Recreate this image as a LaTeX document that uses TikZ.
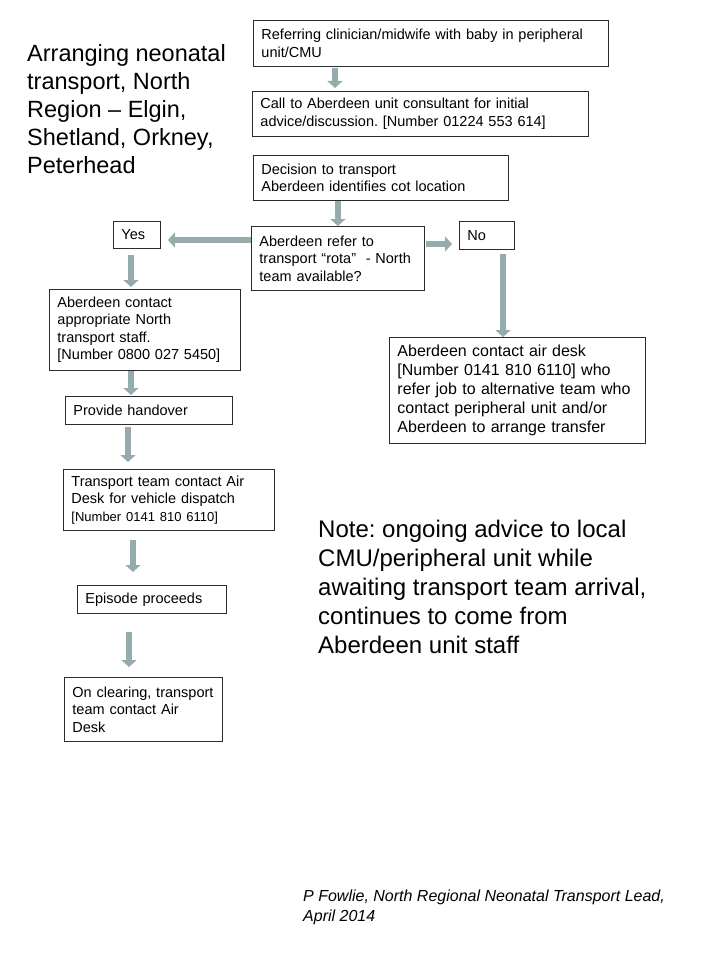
\documentclass[tikz,border=0pt]{standalone}
\usepackage{fontspec}
\setmainfont{Liberation Sans}
\usepackage{tikz}
\usetikzlibrary{arrows.meta,positioning,calc}
\frenchspacing
\definecolor{FlowTeal}{HTML}{94ACAE}
\definecolor{BoxEdge}{HTML}{2B2B2B}
\tikzset{
  flowarrow/.style={-{Triangle[length=7pt,width=15pt]}, line width=5.5pt, draw=FlowTeal},
  bigtext/.style={anchor=north west, align=left, inner sep=0pt}
}

\begin{document}
\begin{tikzpicture}[
  x=1pt, y=-1pt,
  cell/.style={draw=BoxEdge, line width=0.9pt, anchor=north west, align=left,
    inner xsep=8pt, inner ysep=2pt, font=\fontsize{14.5}{17.5}\selectfont}
]
\useasboundingbox (0,0) rectangle (720,960);

\node[bigtext, font=\fontsize{23.5}{28}\selectfont] at (27,44) (title) {Arranging neonatal\\transport, North\\Region – Elgin,\\Shetland, Orkney,\\Peterhead};

\node[cell, text width=339pt, minimum height=46pt] at (253,20) (ref) {Referring clinician/midwife with baby in peripheral\\unit/CMU};
\node[cell, text width=320pt, minimum height=45pt] at (252,91) (call) {Call to Aberdeen unit consultant for initial\\advice/discussion. [Number 01224 553 614]};
\node[cell, text width=239pt, minimum height=45pt] at (253,155) (decide) {Decision to transport\\Aberdeen identifies cot location};
\node[cell, text width=157pt, minimum height=64pt] at (251,226) (rota) {Aberdeen refer to\\transport “rota”~ - North\\team available?};
\node[cell, text width=31pt, minimum height=27pt] at (113,221) (yes) {Yes};
\node[cell, text width=39pt, minimum height=28pt] at (459,221) (no) {No};

% Yes branch
\node[cell, text width=175pt, minimum height=81pt] at (49,289) (northstaff) {Aberdeen contact\\appropriate North\\transport staff.\\{}[Number 0800 027 5450]};
\node[cell, text width=151pt, minimum height=28pt] at (65,396) (handover) {Provide handover};
\node[cell, text width=195pt, minimum height=61pt] at (63,469) (dispatch) {Transport team contact Air\\Desk for vehicle dispatch\\{\fontsize{13}{17}\selectfont [Number 0141 810 6110]}};
\node[cell, text width=133pt, minimum height=28pt] at (77,585) (proceeds) {Episode proceeds};
\node[cell, text width=142pt, minimum height=64pt] at (64,677) (clearing) {On clearing, transport\\team contact Air\\Desk};

% No branch
\node[cell, text width=240pt, minimum height=106pt, font=\fontsize{16}{19}\selectfont] at (389,337) (airdesk) {Aberdeen contact air desk\\{}[Number 0141 810 6110] who\\refer job to alternative team who\\contact peripheral unit and/or\\Aberdeen to arrange transfer};

\node[bigtext, font=\fontsize{24}{29}\selectfont] at (318,520) (note) {Note: ongoing advice to local\\CMU/peripheral unit while\\awaiting transport team arrival,\\continues to come from\\Aberdeen unit staff};
\node[bigtext, font=\itshape\fontsize{16}{20}\selectfont] at (303,890) (credit) {P Fowlie, North Regional Neonatal Transport Lead,\\April 2014};

% Main spine
\coordinate (refout) at ($(ref.south west)+(82,0)$);
\draw[flowarrow, shorten <=1pt, shorten >=3pt] (refout) -- (refout |- call.north);
\draw[flowarrow] (rota.north |- decide.south) -- (rota.north);

% Decision split
\coordinate (rotaL) at ($(rota.north west)+(0,14)$);
\coordinate (rotaR) at ($(rota.north east)+(0,18)$);
\draw[flowarrow, shorten >=7pt] (rotaL) -- (rotaL -| yes.east);
\draw[flowarrow, shorten <=1pt, shorten >=7pt] (rotaR) -- (rotaR -| no.west);

% Yes chain
\coordinate (yesout) at ($(yes.south west)+(18,0)$);
\draw[flowarrow, shorten <=6pt, shorten >=2pt] (yesout) -- (yesout |- northstaff.north);
\coordinate (staffout) at ($(northstaff.south west)+(82,0)$);
\draw[flowarrow, shorten >=1pt] (staffout) -- (staffout |- handover.north);
\coordinate (handout) at ($(handover.south west)+(63,0)$);
\draw[flowarrow, shorten <=2pt, shorten >=7pt] (handout) -- (handout |- dispatch.north);
\coordinate (dispout) at ($(dispatch.south west)+(70,0)$);
\draw[flowarrow, shorten <=9pt, shorten >=13pt] (dispout) -- (dispout |- proceeds.north);
\coordinate (procout) at ($(proceeds.south west)+(52,0)$);
\draw[flowarrow, shorten <=18pt, shorten >=10pt] (procout) -- (procout |- clearing.north);

% No chain
\coordinate (noout) at ($(no.south west)+(44,0)$);
\draw[flowarrow, shorten <=4pt] (noout) -- (noout |- airdesk.north);
\end{tikzpicture}
\end{document}
